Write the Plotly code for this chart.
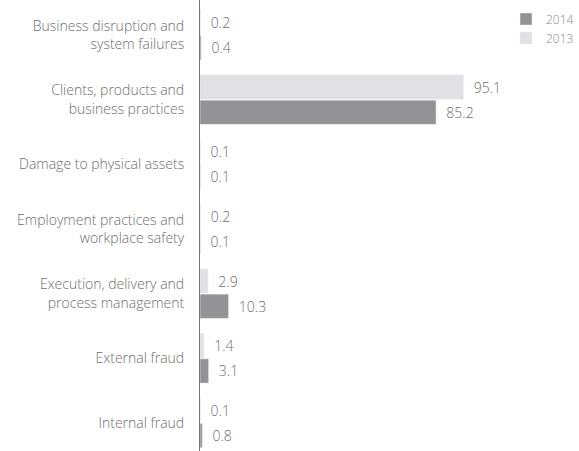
import plotly.graph_objects as go

categories = ["Business disruption and<br>system failures",
              "Clients, products and<br>business practices",
              "Damage to physical assets",
              "Employment practices and<br>workplace safety",
              "Execution, delivery and<br>process management",
              "External fraud",
              "Internal fraud"]
values_2013 = [0.2, 95.1, 0.1, 0.2, 2.9, 1.4, 0.1]
values_2014 = [0.4, 85.2, 0.1, 0.1, 10.3, 3.1, 0.8]

txt = dict(family="Open Sans", size=14, color="#6e6e6e", weight=300)

fig = go.Figure()
fig.add_trace(go.Bar(y=categories, x=values_2013, name="2013", orientation="h",
                     marker_color="#e1e1e3", text=values_2013, textposition="outside",
                     texttemplate="\u00a0\u00a0%{x}", textfont=txt, cliponaxis=False))
fig.add_trace(go.Bar(y=categories, x=values_2014, name="2014", orientation="h",
                     marker_color="#939396", text=values_2014, textposition="outside",
                     texttemplate="\u00a0\u00a0%{x}", textfont=txt, cliponaxis=False))

fig.update_layout(
    width=579, height=451,
    margin=dict(l=200, r=100, t=0, b=0),
    barmode="group", bargap=0.22, bargroupgap=0.04,
    plot_bgcolor="white", paper_bgcolor="white",
    font=txt,
    legend=dict(traceorder="reversed", x=1.097, y=0.99, xanchor="left", yanchor="top",
                font=dict(family="Open Sans", size=12, color="#8a8a8a", weight=300),
                itemwidth=30, tracegroupgap=0),
    xaxis=dict(visible=False, range=[0, 100.7]),
    yaxis=dict(autorange=False, range=[6.433, -0.541], showline=True,
               linecolor="#777777", linewidth=1,
               showgrid=False, ticks="", ticklabelstandoff=12, automargin=False),
)
# page body has a default 8px margin; drop it so the figure sits at the window corner
fig.write_html("out.html", config={"displayModeBar": False},
               post_script="document.body.style.margin='0';document.body.style.overflow='hidden';")
